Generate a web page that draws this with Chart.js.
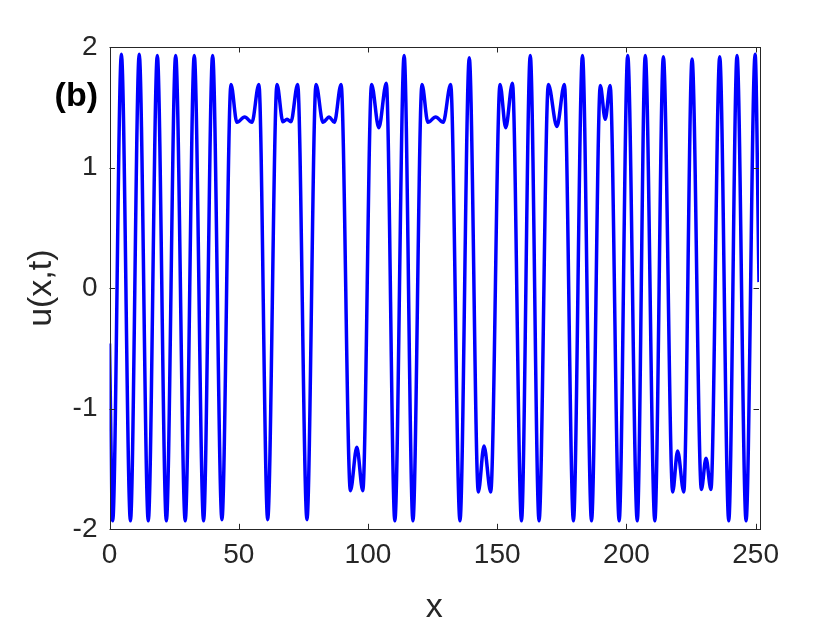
<!DOCTYPE html>
<html>
<head>
<meta charset="utf-8">
<script src="https://cdn.jsdelivr.net/npm/chart.js@4/dist/chart.umd.min.js"></script>
<style>
  html, body { margin: 0; padding: 0; background: #ffffff; }
  #wrap { width: 840px; height: 630px; }
</style>
</head>
<body>
<div id="wrap"><canvas id="c" width="840" height="630"></canvas></div>
<script>
// ---- data (extrema of u(x,t)) ----
const xValues = [0, 1.24, 4.6, 8.1, 11.5, 15.0, 18.5, 22.0, 25.6, 29.3, 32.8, 36.4, 39.9, 43.5,
  47.0, 49.3, 52.3, 55.1, 57.8, 61.2, 64.8, 67.1, 68.7, 70.2, 72.8, 76.4,
  79.9, 82.6, 85.0, 87.0, 89.6, 93.2, 95.7, 98.0, 101.4, 104.2, 107.1, 110.4,
  114.0, 117.4, 120.9, 123.2, 126.2, 129.1, 132.0, 135.6, 139.2, 142.7, 144.9, 147.5,
  151.1, 153.3, 155.9, 159.4, 162.8, 166.2, 169.8, 173.1, 176.0, 179.5, 183.0, 186.5,
  189.9, 191.8, 193.7, 197.2, 200.5, 204.2, 207.3, 211.0, 214.3, 217.9, 219.8, 222.2,
  225.4, 229.0, 230.8, 232.7, 236.1, 239.6, 242.8, 246.3, 249.8, 251.3];
const uValues = [-0.46, -1.93, 1.94, -1.93, 1.94, -1.93, 1.93, -1.93, 1.93, -1.93, 1.93, -1.93, 1.93, -1.92,
  1.69, 1.375, 1.42, 1.375, 1.69, -1.92, 1.69, 1.38, 1.40, 1.38, 1.69, -1.92,
  1.69, 1.375, 1.42, 1.375, 1.69, -1.68, -1.32, -1.68, 1.69, 1.33, 1.70, -1.93,
  1.93, -1.93, 1.69, 1.375, 1.42, 1.375, 1.69, -1.93, 1.91, -1.69, -1.31, -1.69,
  1.69, 1.33, 1.70, -1.93, 1.93, -1.93, 1.69, 1.34, 1.69, -1.93, 1.93, -1.93,
  1.68, 1.40, 1.68, -1.93, 1.93, -1.93, 1.93, -1.93, 1.92, -1.69, -1.35, -1.69,
  1.90, -1.67, -1.41, -1.67, 1.92, -1.93, 1.93, -1.93, 1.94, 0.05];
const xTickValues = [0, 50, 100, 150, 200, 250];
const xTickLabels = ['0', '50', '100', '150', '200', '250'];
const yTickValues = [-2, -1, 0, 1, 2];
const yTickLabels = ['-2', '-1', '0', '1', '2'];
const xTitle = 'x';
const yTitle = 'u(x,t)';
const panelLabel = '(b)';

const FONT = "'Liberation Sans', Arial, Helvetica, sans-serif";
const AXIS_COLOR = '#262626';

const points = xValues.map((x, i) => ({ x: x, y: uValues[i] }));

const boxAndTicks = {
  id: 'boxAndTicks',
  afterDatasetsDraw(chart) {
    const { ctx, chartArea: a, scales } = chart;
    const L = 5.5;
    ctx.save();
    ctx.strokeStyle = AXIS_COLOR;
    ctx.lineWidth = 1;
    ctx.beginPath();
    scales.x.ticks.forEach(t => {
      const px = Math.round(scales.x.getPixelForValue(t.value)) + 0.5;
      ctx.moveTo(px, a.bottom); ctx.lineTo(px, a.bottom - L);
      ctx.moveTo(px, a.top); ctx.lineTo(px, a.top + L);
    });
    scales.y.ticks.forEach(t => {
      const py = Math.round(scales.y.getPixelForValue(t.value)) + 0.5;
      ctx.moveTo(a.left, py); ctx.lineTo(a.left + L, py);
      ctx.moveTo(a.right, py); ctx.lineTo(a.right - L, py);
    });
    ctx.stroke();
    ctx.strokeRect(Math.round(a.left) + 0.5, Math.round(a.top) + 0.5,
      Math.round(a.right - a.left), Math.round(a.bottom - a.top));
    ctx.fillStyle = '#000000';
    ctx.font = 'bold 34px ' + FONT;
    ctx.textAlign = 'right';
    ctx.textBaseline = 'middle';
    ctx.fillText(panelLabel, 98, 97);
    ctx.restore();
  }
};

new Chart(document.getElementById('c'), {
  type: 'line',
  data: {
    datasets: [{
      data: points,
      borderColor: '#0000ff',
      borderWidth: 3.5,
      pointRadius: 0,
      fill: false,
      cubicInterpolationMode: 'monotone'
    }]
  },
  options: {
    responsive: false,
    animation: false,
    devicePixelRatio: 1,
    layout: { padding: { top: 47, right: 81, left: 0, bottom: 0 } },
    plugins: { legend: { display: false }, tooltip: { enabled: false } },
    scales: {
      x: {
        type: 'linear',
        min: 0,
        max: 251.3,
        grid: { display: false, drawTicks: false },
        border: { display: false },
        afterBuildTicks: s => { s.ticks = xTickValues.map(v => ({ value: v })); },
        afterFit: s => { s.height = 100.7; },
        ticks: {
          color: AXIS_COLOR,
          font: { family: FONT, size: 28 },
          padding: 9,
          maxRotation: 0,
          callback: v => xTickLabels[xTickValues.indexOf(v)]
        },
        title: {
          display: true,
          text: xTitle,
          color: AXIS_COLOR,
          font: { family: FONT, size: 34 },
          padding: { top: 0, bottom: 2 }
        }
      },
      y: {
        type: 'linear',
        min: -2,
        max: 2,
        grid: { display: false, drawTicks: false },
        border: { display: false },
        afterBuildTicks: s => { s.ticks = yTickValues.map(v => ({ value: v })); },
        afterFit: s => { s.width = 109.5; },
        ticks: {
          color: AXIS_COLOR,
          font: { family: FONT, size: 28 },
          padding: 12,
          callback: v => yTickLabels[yTickValues.indexOf(v)]
        },
        title: {
          display: true,
          text: yTitle,
          color: AXIS_COLOR,
          font: { family: FONT, size: 34 },
          padding: { top: 21, bottom: 0 }
        }
      }
    }
  },
  plugins: [boxAndTicks]
});
</script>
</body>
</html>
